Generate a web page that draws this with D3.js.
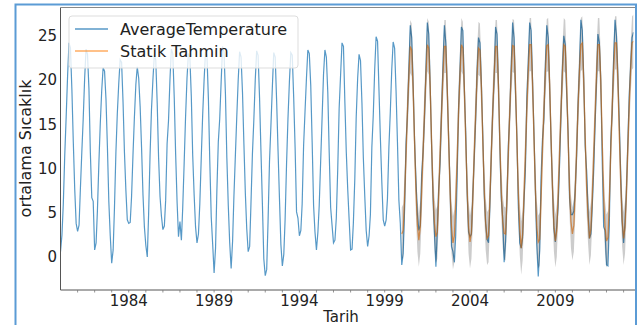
<!DOCTYPE html>
<html>
<head>
<meta charset="utf-8">
<script src="https://cdn.jsdelivr.net/npm/d3@7"></script>
<style>
  body { margin: 0; background: #fff; }
  svg { display: block; font-family: "DejaVu Sans", sans-serif; }
</style>
</head>
<body>
<div id="chart"></div>
<script>
// aylik ortalama sicaklik, Ocak 1980 - Agustos 2013
const startYear = 1980;
const avgTemp = [
  0.6, 2.5, 6.0, 11.5, 15.8, 20.5, 24.2, 23.6, 18.9, 13.0, 7.6, 3.8,   // 1980
  2.9, 3.6, 7.6, 11.8, 15.6, 20.2, 23.5, 22.9, 19.0, 11.8, 6.7, 6.3,   // 1981
  0.8, 1.6, 5.2, 10.5, 15.0, 18.8, 21.4, 21.0, 17.8, 12.5, 6.2, 2.4,   // 1982
  -0.7, 0.8, 5.5, 11.8, 16.2, 19.6, 22.3, 22.0, 17.5, 11.8, 7.5, 4.2,  // 1983
  3.8, 3.9, 6.8, 11.6, 15.8, 19.5, 21.5, 20.2, 17.0, 12.4, 7.0, 3.4,   // 1984
  1.3, 0.0, 4.8, 11.5, 16.6, 20.0, 22.8, 22.3, 17.4, 11.2, 6.8, 4.6,   // 1985
  3.1, 3.5, 6.4, 12.8, 15.4, 20.0, 23.5, 23.0, 18.0, 11.6, 6.2, 2.3,   // 1986
  4.0, 1.9, 5.5, 10.6, 15.8, 20.2, 23.0, 22.6, 18.2, 11.5, 7.0, 3.4,   // 1987
  1.6, 2.6, 6.0, 11.2, 16.0, 20.0, 23.2, 22.8, 17.9, 10.8, 4.5, 1.5,   // 1988
  -1.8, 1.0, 7.4, 13.0, 15.6, 19.8, 23.8, 23.2, 18.4, 11.2, 5.8, 1.6,  // 1989
  -1.3, 1.8, 6.8, 11.4, 15.8, 20.0, 23.2, 22.6, 18.6, 12.8, 7.2, 3.2,  // 1990
  0.6, 1.2, 6.0, 11.6, 15.4, 20.0, 23.3, 22.8, 18.0, 12.0, 6.0, -0.2,  // 1991
  -2.1, -1.4, 4.0, 10.8, 14.8, 19.2, 23.1, 22.6, 17.6, 12.0, 6.5, 1.4, // 1992
  -1.0, 0.3, 4.2, 10.5, 15.6, 19.8, 23.1, 22.8, 18.0, 12.4, 5.1, 4.4,  // 1993
  2.4, 3.0, 6.0, 12.6, 16.4, 20.2, 23.4, 23.0, 19.4, 13.0, 5.8, 2.8,   // 1994
  0.8, 2.8, 5.8, 10.8, 15.6, 20.6, 23.4, 22.6, 18.6, 11.8, 5.6, 3.6,   // 1995
  1.6, 1.9, 4.4, 10.0, 16.8, 20.6, 24.2, 23.8, 17.4, 11.8, 7.6, 4.2,   // 1996
  0.8, 0.9, 3.8, 8.8, 15.8, 20.2, 22.9, 22.2, 17.4, 11.2, 6.8, 3.0,    // 1997
  1.2, 2.4, 4.8, 12.4, 16.0, 21.2, 24.9, 24.4, 18.8, 13.4, 8.4, 4.2,   // 1998
  3.5, 4.2, 6.6, 12.4, 16.4, 21.2, 24.3, 23.6, 18.8, 13.0, 6.4, 3.8,   // 1999
  -0.9, 0.4, 5.2, 12.8, 16.0, 21.2, 26.2, 24.8, 19.6, 13.2, 8.6, 4.8,  // 2000
  3.0, 3.6, 9.2, 11.8, 15.6, 21.0, 26.5, 25.2, 19.4, 12.6, 6.6, 2.8,   // 2001
  -1.1, 3.2, 7.6, 10.6, 16.4, 21.6, 26.2, 24.2, 19.0, 13.4, 7.8, 1.2,  // 2002
  0.6, -0.6, 2.4, 8.8, 16.8, 21.2, 26.0, 25.6, 19.2, 14.2, 7.2, 2.8,   // 2003
  2.3, 2.6, 7.0, 11.2, 15.6, 21.2, 24.8, 24.2, 19.6, 13.8, 7.0, 3.8,   // 2004
  2.0, 1.6, 5.6, 11.6, 16.4, 20.2, 26.0, 25.2, 19.6, 12.2, 6.6, 4.4,   // 2005
  -0.6, 1.8, 6.4, 12.6, 16.2, 21.4, 26.5, 24.8, 18.6, 13.6, 5.6, 1.6,  // 2006
  1.0, 2.2, 6.2, 9.8, 18.0, 22.0, 26.5, 25.6, 20.0, 14.2, 7.6, 1.4,    // 2007
  -2.2, 0.8, 9.0, 13.4, 15.6, 21.6, 26.2, 24.8, 19.4, 13.2, 7.8, 3.2,  // 2008
  1.7, 3.6, 5.6, 10.4, 16.0, 21.4, 25.0, 24.0, 18.4, 14.2, 6.6, 4.8,   // 2009
  4.8, 5.2, 7.4, 11.4, 17.2, 21.4, 26.8, 25.6, 20.2, 12.6, 9.8, 5.4,   // 2010
  2.1, 2.6, 5.6, 9.6, 14.8, 19.8, 25.2, 24.2, 20.0, 11.0, 3.4, 3.0,    // 2011
  -0.9, -1.0, 3.6, 13.2, 16.2, 22.4, 26.8, 25.0, 20.6, 15.4, 9.2, 4.0, // 2012
  1.6, 4.0, 7.2, 12.8, 18.2, 21.6, 24.8, 25.4                          // 2013
];

// statik (bir adim ileri) tahmin, Ocak 2000'den itibaren
const forecastStartYear = 2000;
const staticForecast = [
  2.6, 3.0, 6.6, 11.4, 16.4, 20.4, 23.8, 23.4, 19.0, 13.0, 7.4, 3.6,   // 2000
  1.9, 3.4, 7.2, 11.8, 16.2, 20.4, 24.0, 23.6, 19.2, 12.8, 7.2, 3.8,   // 2001
  2.3, 2.8, 6.8, 11.8, 16.0, 20.6, 23.8, 23.8, 19.0, 13.2, 7.4, 3.4,   // 2002
  1.6, 2.4, 6.2, 11.0, 16.4, 20.6, 24.0, 23.6, 19.2, 13.4, 7.6, 3.4,   // 2003
  1.7, 2.8, 6.6, 11.8, 16.2, 20.6, 23.6, 23.4, 19.2, 13.2, 7.6, 3.8,   // 2004
  2.1, 2.4, 6.4, 11.6, 16.4, 20.6, 23.8, 23.8, 19.4, 13.0, 7.4, 4.0,   // 2005
  2.7, 2.6, 6.4, 11.8, 16.4, 20.8, 23.9, 23.8, 19.4, 13.2, 7.2, 3.2,   // 2006
  1.0, 2.6, 6.8, 11.6, 16.6, 21.0, 24.0, 24.0, 19.6, 13.6, 7.6, 3.4,   // 2007
  1.7, 2.0, 6.6, 12.2, 16.6, 20.8, 23.9, 24.0, 19.6, 13.4, 7.8, 3.6,   // 2008
  1.8, 3.0, 6.8, 11.8, 16.4, 20.8, 24.0, 23.8, 19.4, 13.6, 7.6, 4.0,   // 2009
  2.6, 3.6, 7.2, 12.0, 16.8, 21.0, 24.0, 24.2, 19.8, 13.6, 8.0, 4.6,   // 2010
  2.1, 3.2, 6.6, 11.4, 16.0, 20.6, 24.0, 24.0, 19.8, 13.2, 6.8, 3.4,   // 2011
  1.8, 2.2, 6.0, 12.0, 16.8, 21.2, 24.2, 24.2, 20.0, 14.0, 8.4, 4.2,   // 2012
  2.1, 3.4, 7.0, 12.2, 17.0, 21.2, 24.2, 24.4                          // 2013
];
// guven araligi yarim genisligi (sabit)
const ciHalfWidth = 3.0;

const xTickYears = [1984, 1989, 1994, 1999, 2004, 2009];
const yTicks = [0, 5, 10, 15, 20, 25];
const legendLabels = ['AverageTemperature', 'Statik Tahmin'];

const width = 641;
const height = 325;
const plot = { left: 60.5, right: 633.5, top: 7.5, bottom: 290 };

const obs = avgTemp.map((v, i) => ({ date: new Date(startYear, i, 1), value: v }));
const fc = staticForecast.map((v, i) => ({ date: new Date(forecastStartYear, i, 1), value: v }));

const x = d3.scaleTime()
  .domain([obs[0].date, obs[obs.length - 1].date])
  .range([plot.left, plot.right]);

const y = d3.scaleLinear()
  .domain([-3.73, 28.2])
  .range([plot.bottom, plot.top]);

const svg = d3.select('#chart')
  .append('svg')
  .attr('width', width)
  .attr('height', height);

svg.append('defs').append('clipPath').attr('id', 'clip')
  .append('rect')
  .attr('x', plot.left).attr('y', plot.top)
  .attr('width', plot.right - plot.left).attr('height', plot.bottom - plot.top);

const g = svg.append('g').attr('clip-path', 'url(#clip)');

const line = d3.line()
  .x((d) => x(d.date))
  .y((d) => y(d.value));

// gozlenen seri
g.append('path')
  .datum(obs)
  .attr('fill', 'none')
  .attr('stroke', '#1f77b4')
  .attr('stroke-opacity', 0.75)
  .attr('stroke-width', 1.2)
  .attr('d', line);

// statik tahmin
g.append('path')
  .datum(fc)
  .attr('fill', 'none')
  .attr('stroke', '#ff7f0e')
  .attr('stroke-opacity', 0.65)
  .attr('stroke-width', 1.3)
  .attr('d', line);

// guven araligi
const area = d3.area()
  .x((d) => x(d.date))
  .y0((d) => y(d.value - ciHalfWidth))
  .y1((d) => y(d.value + ciHalfWidth));

g.append('path')
  .datum(fc)
  .attr('fill', '#000')
  .attr('fill-opacity', 0.2)
  .attr('d', area);

// eksenler
svg.append('line')
  .attr('x1', plot.left).attr('x2', plot.left)
  .attr('y1', plot.top).attr('y2', plot.bottom)
  .attr('stroke', '#555').attr('stroke-width', 1);
svg.append('line')
  .attr('x1', plot.left).attr('x2', plot.right + 3)
  .attr('y1', plot.bottom).attr('y2', plot.bottom)
  .attr('stroke', '#555').attr('stroke-width', 1);
svg.append('line')
  .attr('x1', plot.left).attr('x2', plot.right + 3)
  .attr('y1', plot.top).attr('y2', plot.top)
  .attr('stroke', '#888').attr('stroke-width', 1);

// x ekseni: yillik kucuk ticks + etiketler
const minorYears = d3.range(1981, 2014);
svg.selectAll('.minor')
  .data(minorYears)
  .enter()
  .append('line')
  .attr('class', 'minor')
  .attr('x1', (d) => x(new Date(d, 0, 1)))
  .attr('x2', (d) => x(new Date(d, 0, 1)))
  .attr('y1', plot.bottom)
  .attr('y2', plot.bottom + 2.5)
  .attr('stroke', '#777')
  .attr('stroke-width', 0.8);

svg.selectAll('.xlabel')
  .data(xTickYears)
  .enter()
  .append('text')
  .attr('class', 'xlabel')
  .attr('x', (d) => x(new Date(d, 0, 1)))
  .attr('y', plot.bottom + 16)
  .attr('text-anchor', 'middle')
  .attr('font-size', '15px')
  .attr('fill', '#222')
  .text((d) => d);

svg.selectAll('.ylabel')
  .data(yTicks)
  .enter()
  .append('text')
  .attr('class', 'ylabel')
  .attr('x', plot.left - 3.5)
  .attr('y', (d) => y(d))
  .attr('dy', '0.36em')
  .attr('text-anchor', 'end')
  .attr('font-size', '15px')
  .attr('fill', '#222')
  .text((d) => d);

svg.append('text')
  .attr('x', 341)
  .attr('y', 322)
  .attr('text-anchor', 'middle')
  .attr('font-size', '15px')
  .attr('fill', '#222')
  .text('Tarih');

svg.append('text')
  .attr('transform', 'translate(31,148.5) rotate(-90)')
  .attr('text-anchor', 'middle')
  .attr('font-size', '16px')
  .attr('fill', '#222')
  .text('ortalama Sıcaklık');

// lejant
const legend = svg.append('g');
legend.append('rect')
  .attr('x', 69).attr('y', 16)
  .attr('width', 229).attr('height', 52)
  .attr('rx', 3)
  .attr('fill', '#fff').attr('fill-opacity', 0.8)
  .attr('stroke', '#ddd');

const legendColors = [['#1f77b4', 0.75], ['#ff7f0e', 0.65]];
legendLabels.forEach((label, i) => {
  const cy = 29 + i * 22;
  legend.append('line')
    .attr('x1', 75).attr('x2', 108)
    .attr('y1', cy).attr('y2', cy)
    .attr('stroke', legendColors[i][0])
    .attr('stroke-opacity', legendColors[i][1])
    .attr('stroke-width', 1.3);
  legend.append('text')
    .attr('x', 120).attr('y', cy)
    .attr('dy', '0.36em')
    .attr('font-size', '16px')
    .attr('fill', '#222')
    .text(label);
});

// cerceve (ekran goruntusu kenarligi)
svg.append('path')
  .attr('d', 'M15.5,330 V4.5 H636 V330')
  .attr('fill', 'none')
  .attr('stroke', '#5b9bd5')
  .attr('stroke-width', 2);
</script>
</body>
</html>
